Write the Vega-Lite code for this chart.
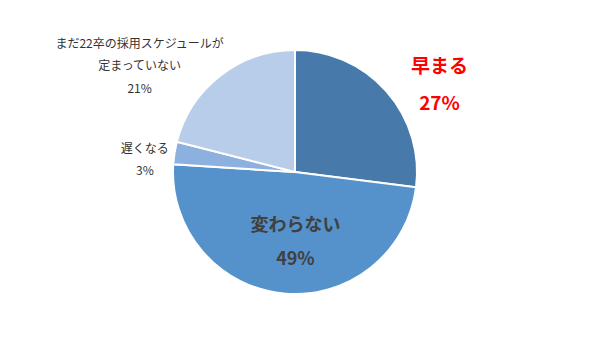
{
  "$schema": "https://vega.github.io/schema/vega-lite/v6.json",
  "width": 590,
  "height": 344,
  "autosize": "none",
  "padding": 0,
  "background": "white",
  "view": {"stroke": null},
  "data": {
    "values": [
      {"category": "早まる", "value": 27, "order": 1, "label": "早まる\n27%"},
      {"category": "変わらない", "value": 49, "order": 2, "label": "変わらない\n49%"},
      {"category": "遅くなる", "value": 3, "order": 3, "label": "遅くなる\n3%"},
      {"category": "まだ22卒の採用スケジュールが定まっていない", "value": 21, "order": 4, "label": "まだ22卒の採用スケジュールが\n定まっていない\n21%"}
    ]
  },
  "encoding": {
    "theta": {"field": "value", "type": "quantitative", "stack": true},
    "order": {"field": "order", "type": "quantitative"}
  },
  "layer": [
    {
      "mark": {"type": "arc", "outerRadius": 122, "stroke": "white", "strokeWidth": 2},
      "encoding": {
        "color": {
          "field": "category",
          "type": "nominal",
          "legend": null,
          "scale": {
            "domain": ["早まる", "変わらない", "遅くなる", "まだ22卒の採用スケジュールが定まっていない"],
            "range": ["#4779AA", "#5591CA", "#8DB1DE", "#B8CDE9"]
          }
        }
      }
    },
    {
      "mark": {"type": "text", "radius": 170, "dx": 17, "dy": 7, "font": "Noto Sans CJK JP", "fontSize": 19, "fontWeight": "bold", "color": "#FF0000", "lineBreak": "\n", "lineHeight": 37, "align": "center", "baseline": "middle"},
      "encoding": {
        "detail": {"field": "category"},
        "text": {"condition": {"test": "datum.category === '早まる'", "field": "label"}, "value": ""}
      }
    },
    {
      "mark": {"type": "text", "radius": 70, "dx": 7, "dy": -16, "font": "Noto Sans CJK JP", "fontSize": 18, "fontWeight": "bold", "color": "#404040", "lineBreak": "\n", "lineHeight": 34, "align": "center", "baseline": "middle"},
      "encoding": {
        "detail": {"field": "category"},
        "text": {"condition": {"test": "datum.category === '変わらない'", "field": "label"}, "value": ""}
      }
    },
    {
      "mark": {"type": "text", "radius": 150, "dx": -2, "dy": 0, "font": "Noto Sans CJK JP", "fontSize": 12, "color": "#333333", "lineBreak": "\n", "lineHeight": 22, "align": "center", "baseline": "middle"},
      "encoding": {
        "detail": {"field": "category"},
        "text": {"condition": {"test": "datum.category === '遅くなる'", "field": "label"}, "value": ""}
      }
    },
    {
      "mark": {"type": "text", "radius": 185, "dx": -42, "dy": 18, "font": "Noto Sans CJK JP", "fontSize": 12, "color": "#333333", "lineBreak": "\n", "lineHeight": 22.5, "align": "center", "baseline": "middle"},
      "encoding": {
        "detail": {"field": "category"},
        "text": {"condition": {"test": "datum.category === 'まだ22卒の採用スケジュールが定まっていない'", "field": "label"}, "value": ""}
      }
    }
  ]
}
